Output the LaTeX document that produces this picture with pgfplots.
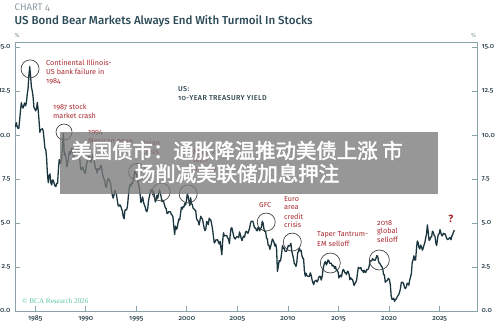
\documentclass[border=0pt]{standalone}
\usepackage{pgfplots}
\pgfplotsset{compat=1.18}
\usepackage{fontspec}
\setmainfont{Fira Sans}[Numbers=OldStyle]
\newfontfamily\titlefont{Fira Sans Medium}[Numbers=OldStyle]
\newfontfamily\cjk{Noto Sans CJK SC}[FakeBold=2.2]
\newfontfamily\copyfont{Liberation Serif}

\definecolor{yieldline}{HTML}{1B363F}
\definecolor{axisgray}{HTML}{8CA2AA}
\definecolor{ticktext}{HTML}{2F4650}
\definecolor{titleblue}{HTML}{2C4A57}
\definecolor{chartgray}{HTML}{8A9BA3}
\definecolor{eventred}{HTML}{A8282E}
\definecolor{bcagreen}{HTML}{5CC4A8}
\definecolor{circgray}{HTML}{454545}

\tikzset{
  evt/.style={anchor=west, inner sep=0pt, text=eventred, font=\fontsize{7.3}{8}\selectfont},
  circ/.style={draw=circgray, line width=0.7bp},
}

\begin{document}
\begin{tikzpicture}
\begin{axis}[
  at={(0,0)}, anchor=south west,
  width=462bp, height=269bp, scale only axis,
  xmin=1983, xmax=2028.7, ymin=0, ymax=15.3,
  axis line style={axisgray, line width=0.8bp},
  tick style={axisgray, line width=0.8bp},
  tick align=inside, major tick length=5bp,
  xtick={1985,1990,...,2025},
  xticklabels={1985,1990,1995,2000,2005,2010,2015,2020,2025},
  ytick={0,2.5,...,15},
  yticklabels={0.0,2.5,5.0,7.5,10.0,12.5,15.0},
  xtick pos=bottom, ytick pos=left,
  ticklabel style={font=\titlefont\fontsize{7}{8}\selectfont, text=ticktext},
  yticklabel style={xshift=-1bp},
  xticklabel style={yshift=-1.5bp},
]
% US 10-year Treasury yield, monthly, Jan 1983 onward (one row per month)
\addplot[yieldline, line width=1.3bp, line join=round] table[header=false, row sep=\\, x expr={1983+(\coordindex+0.5)/12}, y index=0] {
10.46\\10.72\\10.51\\10.40\\10.38\\10.85\\11.38\\11.85\\11.65\\11.54\\11.69\\11.83\\
11.67\\11.84\\12.32\\12.63\\13.41\\13.90\\13.36\\12.72\\12.52\\12.16\\11.57\\11.50\\
11.38\\11.51\\11.86\\11.43\\10.85\\10.16\\10.31\\10.33\\10.37\\10.24\\9.78\\9.26\\
9.19\\8.70\\7.78\\7.30\\7.71\\7.80\\7.30\\7.17\\7.45\\7.43\\7.25\\7.11\\
7.08\\7.25\\7.25\\8.02\\8.61\\8.40\\8.45\\8.76\\9.42\\10.10\\8.86\\8.99\\
8.67\\8.21\\8.37\\8.72\\9.09\\8.92\\9.06\\9.26\\8.98\\8.80\\8.96\\9.11\\
9.09\\9.17\\9.36\\9.18\\8.86\\8.28\\8.02\\8.11\\8.19\\8.01\\7.87\\7.84\\
8.21\\8.47\\8.59\\8.79\\8.76\\8.48\\8.47\\8.75\\8.89\\8.72\\8.39\\8.08\\
8.09\\7.85\\8.11\\8.04\\8.07\\8.28\\8.27\\7.90\\7.65\\7.53\\7.42\\7.09\\
7.03\\7.34\\7.54\\7.48\\7.39\\7.26\\6.84\\6.59\\6.42\\6.59\\6.87\\6.77\\
6.60\\6.26\\5.98\\5.97\\6.04\\5.96\\5.81\\5.68\\5.36\\5.25\\5.72\\5.77\\
5.75\\5.97\\6.48\\6.97\\7.18\\7.10\\7.30\\7.24\\7.46\\7.74\\7.96\\7.81\\
7.78\\7.47\\7.20\\7.06\\6.63\\6.17\\6.28\\6.49\\6.20\\6.04\\5.93\\5.71\\
5.65\\5.81\\6.27\\6.51\\6.74\\6.91\\6.87\\6.64\\6.83\\6.53\\6.20\\6.30\\
6.58\\6.42\\6.69\\6.89\\6.71\\6.49\\6.22\\6.30\\6.21\\6.03\\5.88\\5.81\\
5.54\\5.57\\5.65\\5.64\\5.65\\5.50\\5.46\\5.34\\4.81\\4.35\\4.83\\4.65\\
4.72\\5.00\\5.23\\5.18\\5.54\\5.90\\5.79\\5.94\\5.92\\6.11\\6.03\\6.28\\
6.66\\6.52\\6.26\\5.99\\6.44\\6.10\\6.05\\5.83\\5.80\\5.74\\5.72\\5.24\\
5.16\\5.10\\4.89\\5.14\\5.39\\5.28\\5.24\\4.97\\4.73\\4.57\\4.65\\5.09\\
5.04\\4.91\\5.28\\5.21\\5.16\\4.93\\4.65\\4.26\\3.87\\3.94\\4.05\\4.03\\
4.05\\3.90\\3.81\\3.96\\3.57\\3.20\\3.98\\4.45\\4.27\\4.29\\4.30\\4.27\\
4.15\\4.08\\3.83\\4.35\\4.72\\4.73\\4.50\\4.28\\4.13\\4.10\\4.19\\4.23\\
4.22\\4.17\\4.50\\4.34\\4.14\\4.00\\4.18\\4.26\\4.20\\4.46\\4.54\\4.47\\
4.42\\4.57\\4.72\\4.99\\5.11\\5.11\\5.09\\4.88\\4.72\\4.73\\4.60\\4.56\\
4.76\\4.72\\4.56\\4.69\\4.75\\5.10\\5.00\\4.67\\4.52\\4.53\\4.15\\4.10\\
3.74\\3.74\\3.51\\3.68\\3.88\\4.10\\4.01\\3.89\\3.69\\3.81\\3.53\\2.25\\
2.52\\2.87\\2.82\\2.93\\3.29\\3.72\\3.56\\3.59\\3.40\\3.39\\3.40\\3.59\\
3.73\\3.69\\3.73\\3.85\\3.42\\3.20\\3.01\\2.70\\2.65\\2.54\\2.76\\3.29\\
3.39\\3.58\\3.41\\3.46\\3.17\\3.00\\3.00\\2.30\\1.98\\2.15\\2.01\\1.98\\
1.97\\1.97\\2.17\\2.05\\1.80\\1.62\\1.50\\1.68\\1.72\\1.75\\1.65\\1.72\\
1.91\\1.98\\1.96\\1.76\\1.93\\2.30\\2.58\\2.74\\2.81\\2.62\\2.72\\2.90\\
2.86\\2.71\\2.72\\2.71\\2.56\\2.60\\2.54\\2.42\\2.53\\2.30\\2.33\\2.21\\
1.88\\1.98\\2.04\\1.94\\2.20\\2.36\\2.32\\2.17\\2.17\\2.07\\2.26\\2.24\\
2.09\\1.78\\1.89\\1.81\\1.81\\1.64\\1.45\\1.56\\1.63\\1.76\\2.14\\2.49\\
2.43\\2.42\\2.48\\2.30\\2.30\\2.19\\2.32\\2.21\\2.20\\2.36\\2.35\\2.40\\
2.58\\2.86\\2.84\\2.87\\2.98\\2.91\\2.89\\2.89\\3.00\\3.15\\3.12\\2.83\\
2.71\\2.68\\2.57\\2.53\\2.40\\2.07\\2.06\\1.63\\1.70\\1.71\\1.81\\1.86\\
1.76\\1.50\\0.87\\0.66\\0.67\\0.73\\0.55\\0.65\\0.68\\0.79\\0.87\\0.93\\
1.08\\1.26\\1.61\\1.64\\1.62\\1.52\\1.32\\1.28\\1.37\\1.58\\1.56\\1.47\\
1.76\\1.93\\2.13\\2.75\\2.90\\3.14\\2.90\\2.90\\3.52\\3.98\\3.89\\3.62\\
3.53\\3.75\\3.66\\3.46\\3.57\\3.75\\3.90\\4.17\\4.38\\4.90\\4.50\\4.02\\
4.06\\4.21\\4.21\\4.54\\4.48\\4.31\\4.25\\3.87\\3.72\\4.10\\4.36\\4.39\\
4.63\\4.45\\4.28\\4.28\\4.42\\4.38\\4.39\\4.26\\4.12\\4.06\\4.09\\4.14\\
4.18\\4.05\\4.25\\4.35\\4.50\\4.60\\
};
% event circles
\draw[circ] (axis cs:1984.49,13.77) circle[radius=9bp];
\draw[circ] (axis cs:1987.85,10.18) circle[radius=8bp];
\draw[circ] (axis cs:1995.08,7.91) circle[radius=8.5bp];
\draw[circ] (axis cs:1997.46,6.77) circle[radius=9bp];
\draw[circ] (axis cs:2000.13,6.66) circle[radius=9bp];
\draw[circ] (axis cs:2007.85,5.06) circle[radius=9bp];
\draw[circ] (axis cs:2010.43,3.92) circle[radius=9bp];
\draw[circ] (axis cs:2014.19,2.73) circle[radius=10bp];
\draw[circ] (axis cs:2019.04,2.90) circle[radius=10bp];
\end{axis}

% right-hand scale
\begin{axis}[
  at={(0,0)}, anchor=south west,
  width=462bp, height=269bp, scale only axis,
  xmin=1983, xmax=2028.7, ymin=0, ymax=15.3,
  axis x line=none, axis y line*=right,
  axis line style={axisgray, line width=0.8bp},
  tick style={axisgray, line width=0.8bp},
  tick align=inside, major tick length=5bp,
  ytick={0,2.5,...,15},
  yticklabels={0.0,2.5,5.0,7.5,10.0,12.5,15.0},
  ticklabel style={font=\titlefont\fontsize{7}{8}\selectfont, text=ticktext},
  yticklabel style={xshift=1bp},
]
\addplot[draw=none] coordinates {(1990,5)};
\end{axis}

% titles and annotations, placed in picture units
\begin{scope}[x=1bp, y=-1bp, shift={(-15bp,311bp)}]
  \node[anchor=west, inner sep=0pt, text=chartgray, font=\fontsize{9.6}{10}\selectfont] at (14.5,7.5) {CHART 4};
  \node[anchor=west, inner sep=0pt, text=titleblue, font=\titlefont\fontsize{11.6}{14}\selectfont] at (14.5,21.5) {US Bond Bear Markets Always End With Turmoil In Stocks};
  \node[anchor=west, inner sep=0pt, text=chartgray, font=\fontsize{6}{7}\selectfont] at (14.5,35) {\%};
  \node[anchor=west, inner sep=0pt, text=chartgray, font=\fontsize{6}{7}\selectfont] at (471,35) {\%};

  \node[anchor=west, inner sep=0pt, text=ticktext, font=\titlefont\fontsize{7.2}{8}\selectfont\addfontfeature{LetterSpace=5}] at (178,89) {US:};
  \node[anchor=west, inner sep=0pt, text=ticktext, font=\titlefont\fontsize{7.2}{8}\selectfont\addfontfeature{LetterSpace=5}] at (178,98) {10-YEAR TREASURY YIELD};

  \node[evt] at (46,63) {Continental Illinois-};
  \node[evt] at (46,72) {US bank failure in};
  \node[evt] at (46,81) {1984};
  \node[evt] at (53,107) {1987 stock};
  \node[evt] at (53,115.5) {market crash};
  \node[evt] at (88,133) {1994};
  \node[evt] at (88,141.5) {Mexican peso};
  \node[evt] at (142,143) {Asian};
  \node[evt] at (142,151.5) {crisis};
  \node[evt] at (193,151.5) {Burst of};
  \node[evt] at (193,160) {tech};
  \node[evt] at (193,168.5) {bubble};
  \node[evt] at (259,205) {GFC};
  \node[evt] at (284,199) {Euro};
  \node[evt] at (284,207.7) {area};
  \node[evt] at (284,216.4) {credit};
  \node[evt] at (284,225.1) {crisis};
  \node[evt] at (317,235) {Taper Tantrum-};
  \node[evt] at (317,243.5) {EM selloff};
  \node[evt] at (377,223) {2018};
  \node[evt] at (377,231.5) {global};
  \node[evt] at (377,240) {selloff};
  \node[anchor=center, inner sep=0pt, text=eventred, font=\bfseries\fontsize{10.5}{11}\selectfont] at (451,219) {?};

  \node[anchor=west, inner sep=0pt, text=bcagreen, font=\copyfont\fontsize{7.2}{8}\selectfont] at (22,301) {\textcopyright\ BCA Research 2026};

  % overlaid headline banner
  \fill[black!52, fill opacity=0.78] (60,132) rectangle (438,194);
  \node[anchor=center, inner sep=0pt, text=white, font=\cjk\fontsize{20.5}{24}\selectfont] at (237,150.5) {美国债市：通胀降温推动美债上涨 市};
  \node[anchor=center, inner sep=0pt, text=white, font=\cjk\fontsize{20.5}{24}\selectfont] at (237,173.5) {场削减美联储加息押注};
\end{scope}

\pgfresetboundingbox
\path[use as bounding box] (-15bp,-16bp) rectangle (485bp,311bp);
\end{tikzpicture}
\end{document}
